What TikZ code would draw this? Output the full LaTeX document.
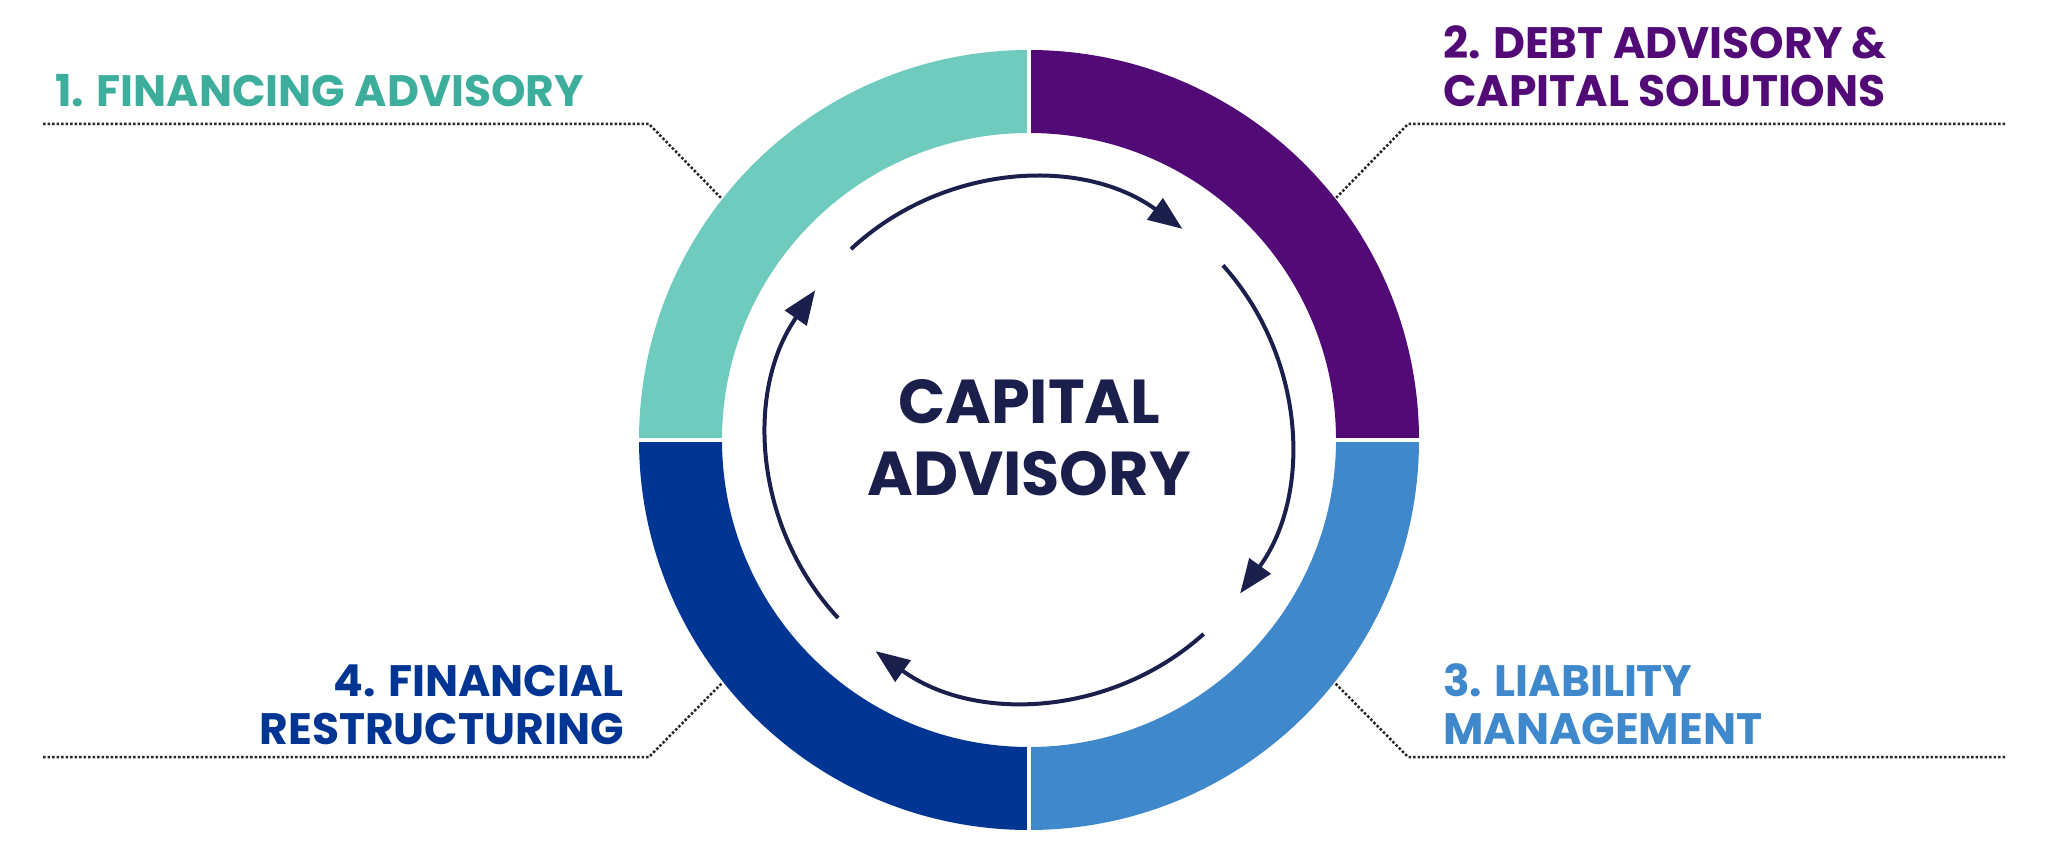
\documentclass[tikz,border=0pt]{standalone}
\usepackage{fontspec}
\setmainfont{Poppins}[UprightFont=* Bold]
\usetikzlibrary{arrows.meta,calc}
\definecolor{teal1}{HTML}{6FCBBD}
\definecolor{tealtxt}{HTML}{3DAE9C}
\definecolor{purp}{HTML}{520A76}
\definecolor{lblue}{HTML}{3F88CB}
\definecolor{dblue}{HTML}{003594}
\definecolor{navy}{HTML}{1B1F4B}
\tikzset{
 lbl/.style={font=\fontsize{44}{50}\selectfont, inner sep=0pt},
 dotline/.style={line width=2.5pt, dotted, black!85},
 cyc/.style={line width=4pt, navy, -{Triangle[length=34pt,width=26pt]}}
}
\begin{document}
\begin{tikzpicture}[x=1pt,y=1pt]
\useasboundingbox (0,0) rectangle (2048,860);
\coordinate (c) at (1029,420);
\def\R{390}\def\r{307}
\foreach \a/\b/\col in {90/180/teal1,0/90/purp,-90/0/lblue,180/270/dblue}{
 \fill[\col] ($(c)+(\a:\R)$) arc[start angle=\a,end angle=\b,radius=\R] -- ($(c)+(\b:\r)$) arc[start angle=\b,end angle=\a,radius=\r] -- cycle;
}
\draw[white,line width=3.5pt] ($(c)+(-\R-2,0)$) -- ($(c)+(\R+2,0)$);
\draw[white,line width=3.5pt] ($(c)+(0,-\R-2)$) -- ($(c)+(0,\R+2)$);
\foreach \a/\b in {133/54,42/-36,-48/-126,-137/-215}{
 \draw[cyc] ($(c)+(\a:261)$) arc[start angle=\a,end angle=\b,radius=261];
}
\node[lbl,navy,font=\fontsize{62}{72}\selectfont,anchor=base] (t1) at (1029,436) {CAPITAL};
\node[lbl,navy,font=\fontsize{62}{72}\selectfont,anchor=base] (t2) at (1029,364) {ADVISORY};
\node[lbl,tealtxt,anchor=base west] (l1) at (55,753) {1. FINANCING ADVISORY};
\node[lbl,purp,anchor=base west] (l2a) at (1443,801) {2. DEBT ADVISORY \&};
\node[lbl,purp,anchor=base west] (l2b) at (1443,753) {CAPITAL SOLUTIONS};
\node[lbl,lblue,anchor=base west] (l3a) at (1443,164) {3. LIABILITY};
\node[lbl,lblue,anchor=base west] (l3b) at (1443,116) {MANAGEMENT};
\node[lbl,dblue,anchor=base east] (l4a) at (624,164) {4. FINANCIAL};
\node[lbl,dblue,anchor=base east] (l4b) at (624,116) {RESTRUCTURING};
\coordinate (p1a) at (43,736); \coordinate (p1b) at (649,736); \coordinate (p1c) at (722,661);
\coordinate (p2a) at (2005,736); \coordinate (p2b) at (1408,736); \coordinate (p2c) at (1335,661);
\coordinate (p3a) at (2005,103); \coordinate (p3b) at (1408,103); \coordinate (p3c) at (1335,177);
\coordinate (p4a) at (43,103); \coordinate (p4b) at (649,103); \coordinate (p4c) at (722,177);
\draw[dotline] (p1a) -- (p1b) -- (p1c);
\draw[dotline] (p2a) -- (p2b) -- (p2c);
\draw[dotline] (p3a) -- (p3b) -- (p3c);
\draw[dotline] (p4a) -- (p4b) -- (p4c);
\end{tikzpicture}
\end{document}
